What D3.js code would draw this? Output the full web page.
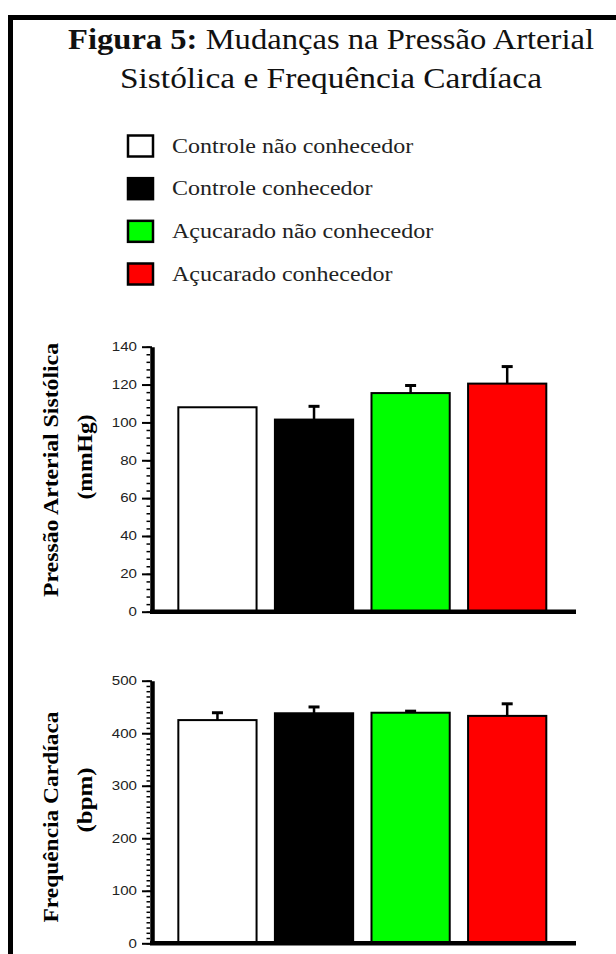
<!DOCTYPE html>
<html>
<head>
<meta charset="utf-8">
<script src="https://cdn.jsdelivr.net/npm/d3@7"></script>
<style>
  body { margin: 0; background: #fff; }
  svg { display: block; }
</style>
</head>
<body>
<script>
// Data
var groups = ["Controle não conhecedor", "Controle conhecedor", "Açucarado não conhecedor", "Açucarado conhecedor"];
var colors = ["#ffffff", "#000000", "#00ff00", "#ff0000"];
var pasMean = [108, 101.5, 115.5, 120.5];
var pasErr = [0, 7, 4, 9];
var fcMean = [425, 438, 439, 433];
var fcErr = [14, 12, 3, 23];
var pasTicks = [0, 20, 40, 60, 80, 100, 120, 140];
var fcTicks = [0, 100, 200, 300, 400, 500];

var width = 616, height = 954;
var serif = "'Liberation Serif', 'Times New Roman', serif";
var sans = "'Liberation Sans', Arial, sans-serif";

var svg = d3.select("body").append("svg")
    .attr("width", width)
    .attr("height", height);

// Frame
svg.append("rect")
    .attr("x", 10.5).attr("y", 17.5)
    .attr("width", 800).attr("height", 1100)
    .attr("fill", "none")
    .attr("stroke", "#000")
    .attr("stroke-width", 5);

// Title
var t1 = svg.append("text")
    .attr("x", 331).attr("y", 49)
    .attr("text-anchor", "middle")
    .attr("font-family", serif)
    .attr("font-size", 29)
    .attr("textLength", 526)
    .attr("lengthAdjust", "spacingAndGlyphs")
    .attr("fill", "#111");
t1.append("tspan").attr("font-weight", "bold").text("Figura 5:");
t1.append("tspan").text(" Mudanças na Pressão Arterial");

svg.append("text")
    .attr("x", 331).attr("y", 88)
    .attr("text-anchor", "middle")
    .attr("font-family", serif)
    .attr("font-size", 29)
    .attr("textLength", 422)
    .attr("lengthAdjust", "spacingAndGlyphs")
    .attr("fill", "#111")
    .text("Sistólica e Frequência Cardíaca");

// Legend
var legendY = d3.scalePoint().domain(groups).range([146, 274]);
var legend = svg.append("g").selectAll("g")
    .data(groups)
    .enter().append("g")
    .attr("transform", function (d) { return "translate(0," + legendY(d) + ")"; });
legend.append("rect")
    .attr("x", 128).attr("y", -10.5)
    .attr("width", 25).attr("height", 21)
    .attr("fill", function (d, i) { return colors[i]; })
    .attr("stroke", "#000")
    .attr("stroke-width", 2.5);
legend.append("text")
    .attr("x", 172).attr("y", 6.5)
    .attr("font-family", serif)
    .attr("font-size", 20)
    .attr("fill", "#222")
    .text(function (d) { return d; })
    .each(function () {
        // the source text is a bit stretched sideways
        var w = this.getComputedTextLength();
        d3.select(this)
            .attr("textLength", w * 1.2)
            .attr("lengthAdjust", "spacingAndGlyphs");
    });

function drawPanel(means, errs, ticks, yMax, minorStep, yBottom, yTop, label1, label2, l1, l2, labelY1, labelY2) {
    var xScale = d3.scaleBand()
        .domain(groups)
        .range([152, 576])
        .paddingInner(0.19)
        .paddingOuter(0.29)
        .align(0.47);
    var yScale = d3.scaleLinear()
        .domain([0, yMax])
        .range([yBottom, yTop]);

    var g = svg.append("g");

    // Bars
    g.selectAll("rect.bar")
        .data(groups)
        .enter().append("rect")
        .attr("class", "bar")
        .attr("x", function (d) { return xScale(d); })
        .attr("y", function (d, i) { return yScale(means[i]); })
        .attr("width", xScale.bandwidth())
        .attr("height", function (d, i) { return yScale(0) - yScale(means[i]); })
        .attr("fill", function (d, i) { return colors[i]; })
        .attr("stroke", "#000")
        .attr("stroke-width", 2);

    // Error bars (upper only)
    var eb = g.selectAll("g.err")
        .data(groups.filter(function (d, i) { return errs[i] > 0; }))
        .enter().append("g")
        .attr("class", "err");
    eb.append("line")
        .attr("x1", function (d) { return xScale(d) + xScale.bandwidth() / 2; })
        .attr("x2", function (d) { return xScale(d) + xScale.bandwidth() / 2; })
        .attr("y1", function (d) { var i = groups.indexOf(d); return yScale(means[i]); })
        .attr("y2", function (d) { var i = groups.indexOf(d); return yScale(means[i] + errs[i]); })
        .attr("stroke", "#000")
        .attr("stroke-width", 2.5);
    eb.append("line")
        .attr("x1", function (d) { return xScale(d) + xScale.bandwidth() / 2 - 5.5; })
        .attr("x2", function (d) { return xScale(d) + xScale.bandwidth() / 2 + 5.5; })
        .attr("y1", function (d) { var i = groups.indexOf(d); return yScale(means[i] + errs[i]); })
        .attr("y2", function (d) { var i = groups.indexOf(d); return yScale(means[i] + errs[i]); })
        .attr("stroke", "#000")
        .attr("stroke-width", 3);

    // Minor ticks
    g.append("g")
        .attr("transform", "translate(150,0)")
        .call(d3.axisLeft(yScale).tickValues(d3.range(0, yMax + 0.01, minorStep)).tickSize(3.5).tickFormat(""))
        .call(function (a) {
            a.select(".domain").remove();
            a.selectAll("line").attr("stroke-width", 1.5);
        });

    // Y axis
    g.append("g")
        .attr("transform", "translate(152,0)")
        .call(d3.axisLeft(yScale).tickValues(ticks).tickSize(10).tickSizeOuter(0).tickPadding(5))
        .call(function (a) {
            a.select(".domain").attr("stroke-width", 4.5);
            a.selectAll(".tick line").attr("stroke-width", 2);
            a.selectAll(".tick text")
                .attr("font-family", sans)
                .attr("font-size", 12)
                .attr("fill", "#222")
                .attr("textLength", function (d) { return String(d).length * 8.4; })
                .attr("lengthAdjust", "spacingAndGlyphs");
        });

    // X axis baseline
    g.append("line")
        .attr("x1", 150).attr("x2", 576)
        .attr("y1", yScale(0)).attr("y2", yScale(0))
        .attr("stroke", "#000")
        .attr("stroke-width", 4.5);

    // Y axis title (two lines)
    g.append("text")
        .attr("transform", "translate(58," + labelY1 + ") rotate(-90)")
        .attr("text-anchor", "middle")
        .attr("font-family", serif)
        .attr("font-weight", "bold")
        .attr("font-size", 22)
        .attr("textLength", l1)
        .attr("lengthAdjust", "spacingAndGlyphs")
        .text(label1);
    g.append("text")
        .attr("transform", "translate(92," + labelY2 + ") rotate(-90)")
        .attr("text-anchor", "middle")
        .attr("font-family", serif)
        .attr("font-weight", "bold")
        .attr("font-size", 22)
        .attr("textLength", l2)
        .attr("lengthAdjust", "spacingAndGlyphs")
        .text(label2);
}

drawPanel(pasMean, pasErr, pasTicks, 140, 4, 611.7, 346.7,
    "Pressão Arterial Sistólica", "(mmHg)", 254, 85, 470, 457);
drawPanel(fcMean, fcErr, fcTicks, 500, 10, 943.3, 680.7,
    "Frequência Cardíaca", "(bpm)", 211, 65, 817, 800);
</script>
</body>
</html>
